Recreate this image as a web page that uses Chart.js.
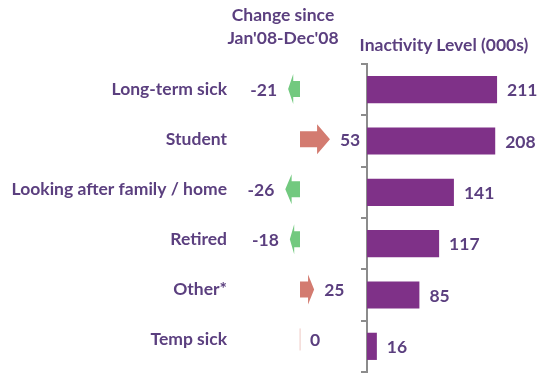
<!DOCTYPE html>
<html>
<head>
<meta charset="utf-8">
<script src="https://cdn.jsdelivr.net/npm/chart.js@4.4.0/dist/chart.umd.min.js"></script>
<style>
  html,body{margin:0;padding:0;background:#fff;}
  #wrap{position:relative;width:547px;height:383px;overflow:hidden;font-family:Lato,"Open Sans",sans-serif;}
  #cChange{position:absolute;left:0;top:0;}
  #cLevel{position:absolute;left:340px;top:0;}
  .ttl{position:absolute;color:#5b3f7f;font-weight:bold;font-size:17.5px;text-align:center;line-height:23px;white-space:nowrap;}
</style>
</head>
<body>
<div id="wrap">
  <canvas id="cChange" width="365" height="383"></canvas>
  <canvas id="cLevel" width="207" height="383"></canvas>
  <div class="ttl" style="left:193px;top:3px;width:180px">Change since<br>Jan'08-Dec'08</div>
  <div class="ttl" style="left:344px;top:33px;width:200px">Inactivity Level (000s)</div>
</div>
<script>
// datos
const categorias = ['Long-term sick','Student','Looking after family / home','Retired','Other*','Temp sick'];
const cambio = [-21, 53, -26, -18, 25, 0];
const nivel = [211, 208, 141, 117, 85, 16];

const TXT = '#5b3f7f';
const FAM = 'Lato, "Open Sans", sans-serif';
const FONT = 'bold 17.5px ' + FAM;
const ROJO = '#d37b70';
const VERDE = '#72c97f';
const VIOLETA = '#7f3188';

// flechas dibujadas sobre los elementos de barra (transparentes)
const flechas = {
  id:'flechas',
  afterDatasetsDraw(chart){
    const ctx = chart.ctx;
    const meta = chart.getDatasetMeta(0);
    const vals = chart.data.datasets[0].data;
    ctx.save();
    meta.data.forEach((bar,i)=>{
      const v = vals[i];
      const x0 = bar.base, x1 = bar.x, y = bar.y;
      const L = x1 - x0;
      const hb = 8, hh = 15;
      const xh = x1 - L*0.43;
      ctx.fillStyle = v>=0 ? ROJO : VERDE;
      if(v===0){
        ctx.fillStyle = 'rgba(211,123,112,0.35)';
        ctx.fillRect(x0-0.5, y-11, 1.2, 22);
      } else {
        ctx.beginPath();
        ctx.moveTo(x0, y-hb);
        ctx.lineTo(xh, y-hb);
        ctx.lineTo(xh, y-hh);
        ctx.lineTo(x1, y);
        ctx.lineTo(xh, y+hh);
        ctx.lineTo(xh, y+hb);
        ctx.lineTo(x0, y+hb);
        ctx.closePath();
        ctx.fill();
      }
      ctx.fillStyle = TXT;
      ctx.font = FONT;
      ctx.textBaseline = 'middle';
      if(v<0){ ctx.textAlign='right'; ctx.fillText(String(v), x1-11, y+1); }
      else { ctx.textAlign='left'; ctx.fillText(String(v), x1+10, y+1); }
    });
    ctx.restore();
  }
};

const etiquetas = {
  id:'etiquetas',
  afterDatasetsDraw(chart){
    const ctx = chart.ctx;
    const meta = chart.getDatasetMeta(0);
    ctx.save();
    ctx.fillStyle = TXT;
    ctx.font = FONT;
    ctx.textBaseline = 'middle';
    ctx.textAlign = 'left';
    meta.data.forEach((bar,i)=>{
      ctx.fillText(String(nivel[i]), bar.x+10, bar.y+1);
    });
    ctx.restore();
  }
};

new Chart(document.getElementById('cChange'), {
  type:'bar',
  data:{ labels:categorias, datasets:[{ data:cambio, backgroundColor:'rgba(0,0,0,0)', categoryPercentage:1, barPercentage:0.6 }] },
  options:{
    indexAxis:'y', responsive:false, animation:false,
    layout:{ padding:{ top:64, bottom:11, left:0, right:0 } },
    plugins:{ legend:{display:false}, tooltip:{enabled:false} },
    scales:{
      x:{ display:false, min:-115, max:115 },
      y:{
        border:{display:false},
        grid:{display:false, drawTicks:false},
        ticks:{ color:TXT, font:{family:FAM, size:17.5, weight:'bold'}, padding:8 },
        afterFit(s){ s.width = 235; }
      }
    }
  },
  plugins:[flechas]
});

new Chart(document.getElementById('cLevel'), {
  type:'bar',
  data:{ labels:categorias, datasets:[{ data:nivel, backgroundColor:VIOLETA, categoryPercentage:1, barPercentage:0.53 }] },
  options:{
    indexAxis:'y', responsive:false, animation:false,
    layout:{ padding:{ top:64, bottom:11, left:0, right:0 } },
    plugins:{ legend:{display:false}, tooltip:{enabled:false} },
    scales:{
      x:{ display:false, min:0, max:292 },
      y:{
        border:{display:true, color:'#8c8c8c', width:2},
        grid:{ display:true, drawOnChartArea:false, drawTicks:true, tickLength:6, color:'#8c8c8c', lineWidth:2 },
        ticks:{ display:false },
        afterFit(s){ s.width = 27; }
      }
    }
  },
  plugins:[etiquetas]
});
</script>
</body>
</html>
